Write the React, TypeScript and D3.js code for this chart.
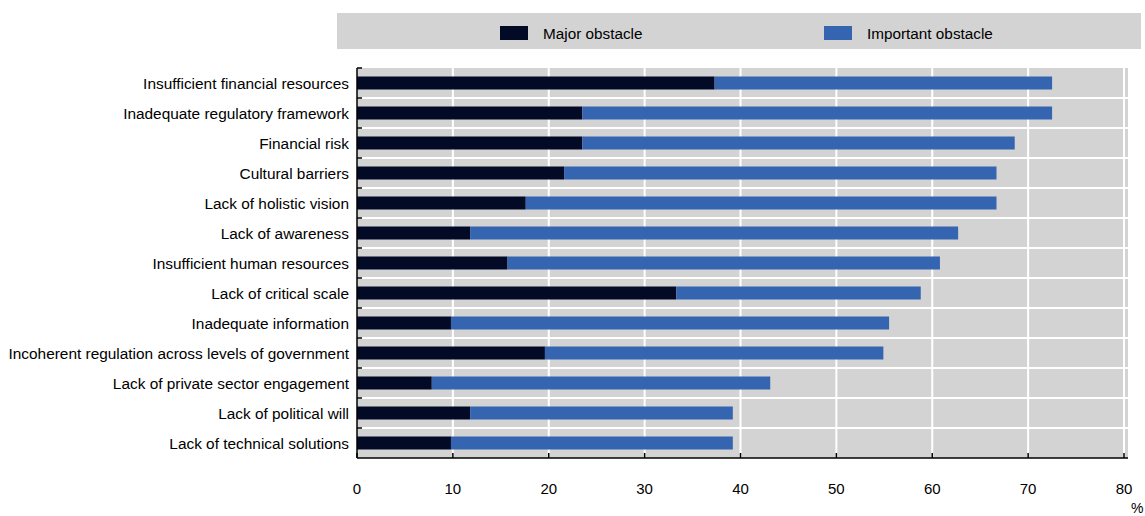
import React from "react";
import * as d3 from "d3";

const categories = [
  "Insufficient financial resources",
  "Inadequate regulatory framework",
  "Financial risk",
  "Cultural barriers",
  "Lack of holistic vision",
  "Lack of awareness ",
  "Insufficient human resources",
  "Lack of critical scale",
  "Inadequate information ",
  "Incoherent regulation across levels of government",
  "Lack of private sector engagement",
  "Lack of political will",
  "Lack of technical solutions",
];
const majorValues = [37.3, 23.5, 23.5, 21.6, 17.6, 11.8, 15.7, 33.3, 9.8, 19.6, 7.8, 11.8, 9.8];
const totalValues = [72.5, 72.5, 68.6, 66.7, 66.7, 62.7, 60.8, 58.8, 55.5, 54.9, 43.1, 39.2, 39.2];
const importantValues = totalValues.map((t, i) => t - majorValues[i]);
const xTicks = [0, 10, 20, 30, 40, 50, 60, 70, 80];
const seriesNames = ["Major obstacle", "Important obstacle"];
const colors = ["#020a26", "#3564b0"];

const W = 1145, H = 516;
const plot = { left: 357, right: 1124, top: 68, bottom: 458 };
const font = "'Liberation Sans', Arial, sans-serif";

export default function App() {
  const x = d3.scaleLinear().domain([0, 80]).range([plot.left, plot.right]);
  const y = d3.scaleBand().domain(categories).range([plot.top, plot.bottom]).paddingInner(0.6).paddingOuter(0.3);
  const step = y.step();
  const bw = 13;
  return (
    <svg width={W} height={H} style={{ position: "absolute", left: 0, top: 0 }} fontFamily={font}>
      {/* legend */}
      <rect x={337} y={13} width={804} height={36} fill="#d3d3d3" />
      {seriesNames.map((s, i) => {
        const lx = i === 0 ? 500 : 824;
        return (
          <g key={s}>
            <rect x={lx} y={26} width={28} height={14} fill={colors[i]} />
            <text x={lx + 43} y={38.5} fontSize={15.3} fill="#000">{s}</text>
          </g>
        );
      })}
      {/* plot bg */}
      <rect x={plot.left} y={plot.top} width={plot.right + 4 - plot.left} height={plot.bottom - plot.top} fill="#d3d3d3" />
      {xTicks.slice(1).map((t) => (
        <line key={t} x1={x(t)} x2={x(t)} y1={plot.top} y2={plot.bottom} stroke="#fff" strokeWidth={2} />
      ))}
      {categories.slice(1).map((c) => {
        const yy = (y(c) as number) - (step - y.bandwidth()) / 2;
        return <line key={c} x1={plot.left} x2={plot.right + 4} y1={yy} y2={yy} stroke="#fff" strokeWidth={2} />;
      })}
      {/* bars */}
      {categories.map((c, i) => {
        const cy = (y(c) as number) + y.bandwidth() / 2;
        return (
          <g key={c}>
            <rect x={x(0)} y={cy - bw / 2} width={x(majorValues[i]) - x(0)} height={bw} fill={colors[0]} />
            <rect x={x(majorValues[i])} y={cy - bw / 2} width={x(majorValues[i] + importantValues[i]) - x(majorValues[i])} height={bw} fill={colors[1]} />
            <text x={349} y={cy + 5.5} textAnchor="end" fontSize={15.4} fill="#000">{c}</text>
          </g>
        );
      })}
      {/* axes */}
      <line x1={plot.left} x2={plot.left} y1={plot.top} y2={plot.bottom} stroke="#000" strokeWidth={1.5} />
      {categories.map((c) => {
        const yy = (y(c) as number) - (step - y.bandwidth()) / 2;
        return <line key={c} x1={plot.left} x2={plot.left + 5} y1={yy} y2={yy} stroke="#000" strokeWidth={1.5} />;
      })}
      <line x1={plot.left} x2={plot.right + 4} y1={plot.bottom} y2={plot.bottom} stroke="#000" strokeWidth={1.5} />
      {xTicks.map((t) => (
        <g key={t}>
          <line x1={x(t)} x2={x(t)} y1={plot.bottom} y2={plot.bottom - 5} stroke="#000" strokeWidth={1.5} />
          <text x={x(t)} y={494} textAnchor="middle" fontSize={15} fill="#000">{t}</text>
        </g>
      ))}
      <text x={1131} y={513} fontSize={14} fill="#000">%</text>
    </svg>
  );
}
